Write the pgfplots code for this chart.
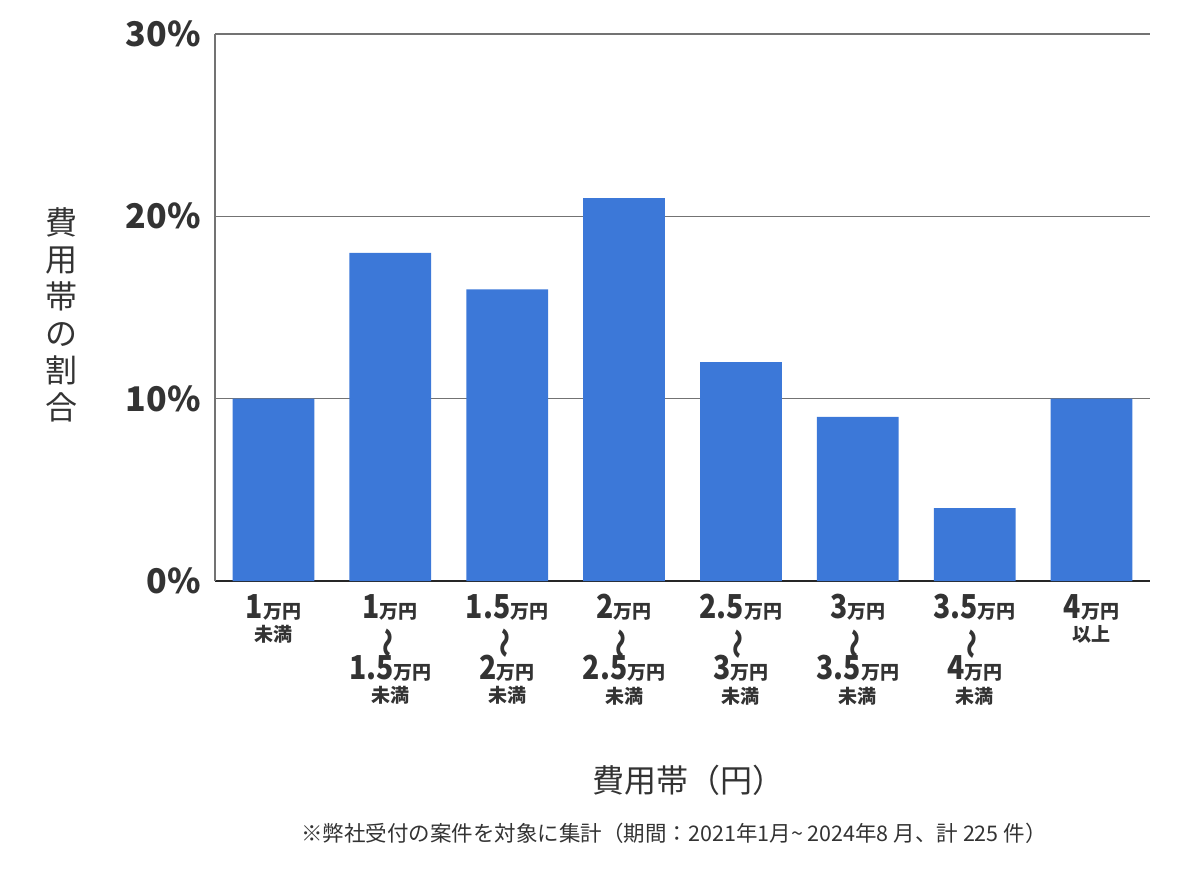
\documentclass[border=0pt]{standalone}
\usepackage{fontspec}
\setmainfont{Noto Sans CJK JP}
\usepackage{graphicx}
\usepackage{pgfplots}
\pgfplotsset{compat=1.18}
\definecolor{barblue}{HTML}{3C78D8}
\definecolor{txt}{HTML}{333333}
\newcommand{\num}[1]{\scalebox{0.86}[1]{\fontsize{16.5}{16.5}\selectfont\bfseries #1}}
\newcommand{\mn}{{\fontsize{9.5}{10}\selectfont\bfseries 万円}}
\newcommand{\sub}[1]{{\fontsize{9.5}{10}\selectfont\bfseries #1}}
\newcommand{\wave}{\raisebox{-5pt}[8pt][0pt]{\rotatebox{90}{\scalebox{1.7}[1.4]{\fontsize{9}{9}\selectfont\bfseries 〜}}}}
\begin{document}
\begin{tikzpicture}
\begin{axis}[
  at={(0,0)}, anchor=south west,
  scale only axis,
  width=467.5pt, height=273.5pt,
  xmin=-0.5, xmax=7.5,
  ymin=0, ymax=30,
  ytick={0,10,20,30},
  yticklabels={0\%,10\%,20\%,30\%},
  yticklabel style={font=\fontsize{17}{17}\selectfont\bfseries, text=txt, xshift=-3.5pt},
  xtick={0,1,2,3,4,5,6,7},
  xticklabels={
    {\num{1}\mn\\[-3.5pt]\sub{未満}},
    {\num{1}\mn\\\wave\\\num{1.5}\mn\\[-3.5pt]\sub{未満}},
    {\num{1.5}\mn\\\wave\\\num{2}\mn\\[-3.5pt]\sub{未満}},
    {\num{2}\mn\\\wave\\\num{2.5}\mn\\[-3.5pt]\sub{未満}},
    {\num{2.5}\mn\\\wave\\\num{3}\mn\\[-3.5pt]\sub{未満}},
    {\num{3}\mn\\\wave\\\num{3.5}\mn\\[-3.5pt]\sub{未満}},
    {\num{3.5}\mn\\\wave\\\num{4}\mn\\[-3.5pt]\sub{未満}},
    {\num{4}\mn\\[-3.5pt]\sub{以上}}},
  xticklabel style={align=center, anchor=north, text=txt, yshift=-3pt,
    font=\fontsize{10}{15.3}\selectfont},
  major tick length=0pt,
  ymajorgrids,
  grid style={draw=black!55, line width=0.6pt},
  axis x line*=bottom,
  axis y line*=left,
  x axis line style={draw=black!85, line width=0.7pt, -},
  y axis line style={draw=black!55, line width=0.6pt, -},
  ybar,
  bar width=0.7,
  clip=false,
]
\addplot[fill=barblue, draw=none] coordinates {
  (0,10) (1,18) (2,16) (3,21) (4,12) (5,9) (6,4) (7,10)
};
\end{axis}
\node[text=txt, align=center, font=\fontsize{16}{18.5}\selectfont] at (-76.5pt,133pt) {費\\用\\帯\\の\\割\\合};
\node[text=txt, font=\fontsize{16}{18}\selectfont] at (236.5pt,-99.5pt) {費用帯（円）};
\node[text=txt, font=\fontsize{10.75}{12}\selectfont] at (229.5pt,-126pt) {※弊社受付の案件を対象に集計（期間：2021年1月\char"007E\ 2024年8 月、計 225 件）};
\pgfresetboundingbox
\useasboundingbox (-107.5pt,-146.5pt) rectangle (492.5pt,290.5pt);
\end{tikzpicture}
\end{document}
